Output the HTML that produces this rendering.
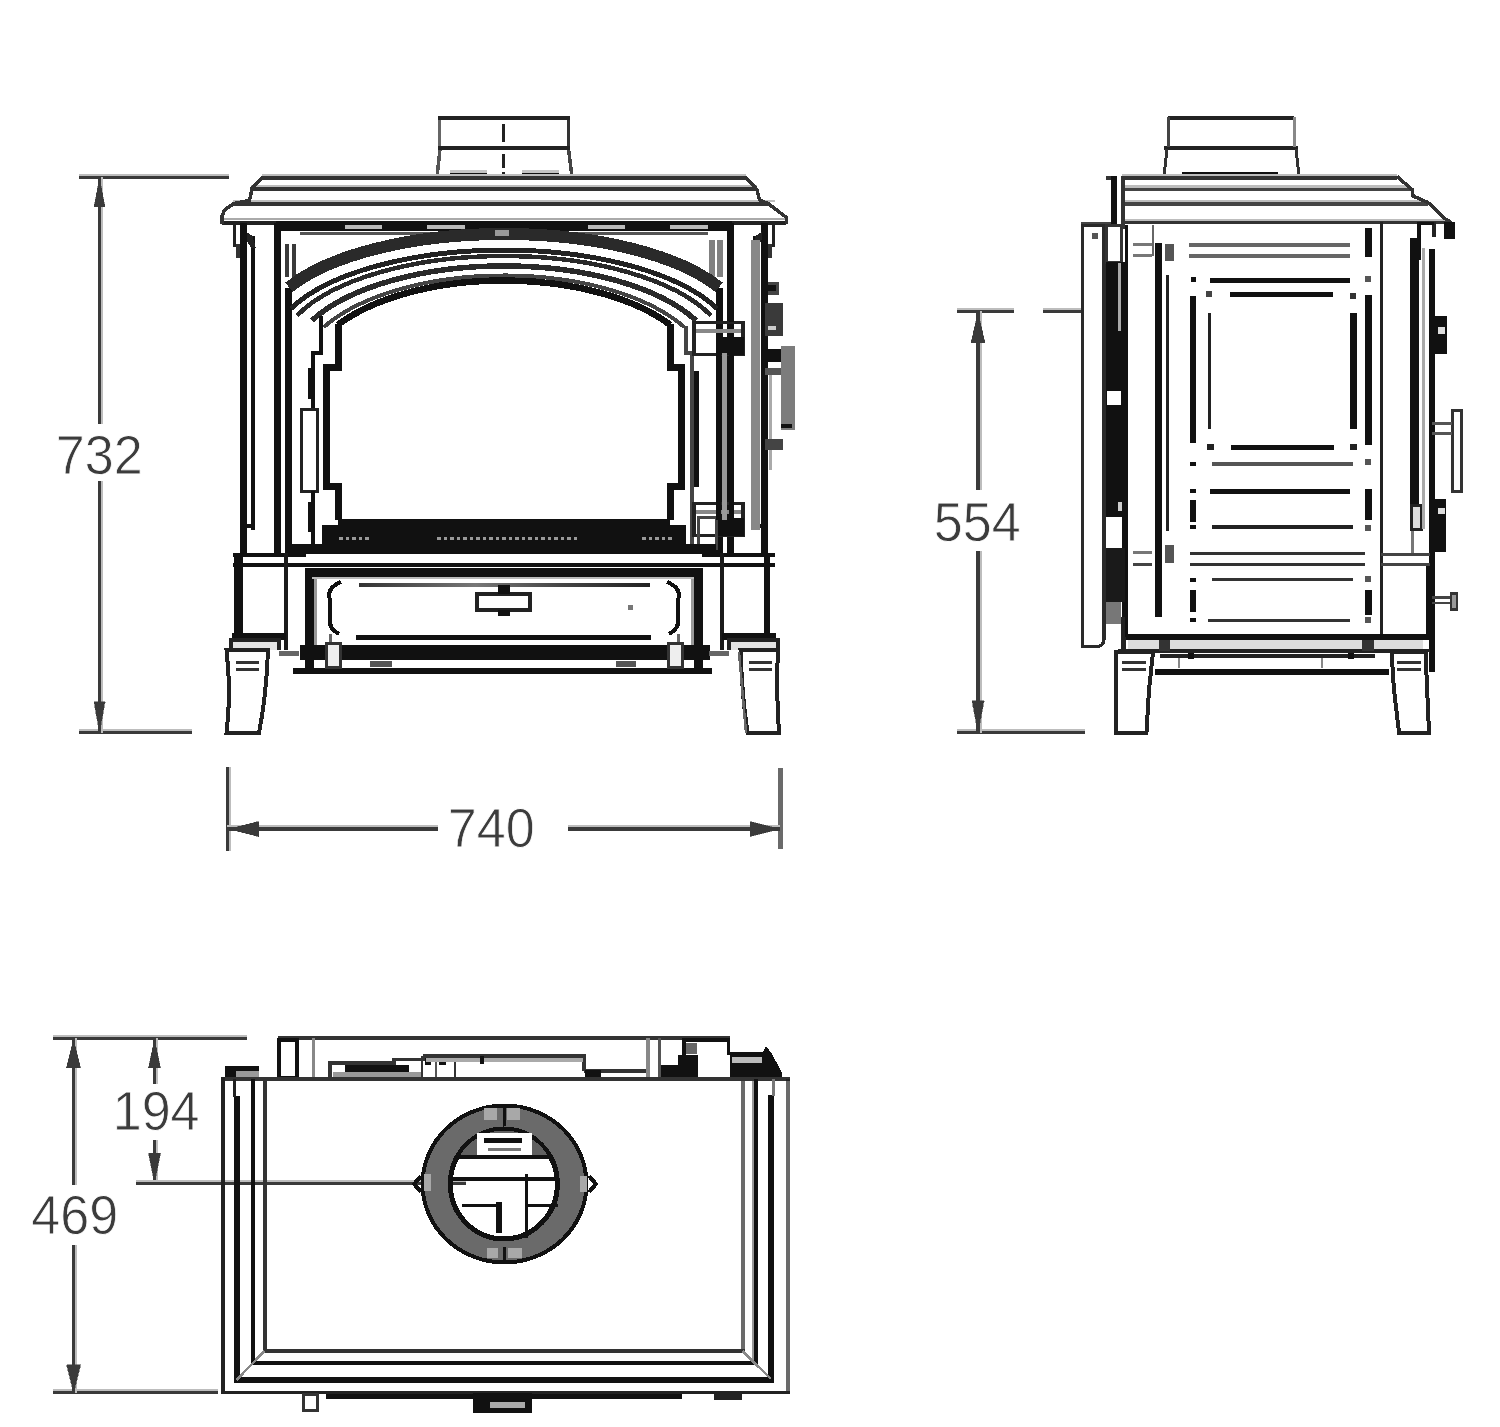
<!DOCTYPE html>
<html><head><meta charset="utf-8"><style>
html,body{margin:0;padding:0;background:#fff;}
svg{display:block;}
text{font-family:"Liberation Sans",sans-serif;}
</style></head><body>
<svg width="1500" height="1427" viewBox="0 0 1500 1427" shape-rendering="crispEdges">
<line x1="79" y1="174.7" x2="228.5" y2="174.7" stroke="#bdbdbd" stroke-width="2.2"/>
<line x1="79" y1="177.5" x2="228.5" y2="177.5" stroke="#3a3a3a" stroke-width="3.5"/>
<line x1="79" y1="729.7" x2="191.5" y2="729.7" stroke="#bdbdbd" stroke-width="2.2"/>
<line x1="79" y1="732.5" x2="191.5" y2="732.5" stroke="#3a3a3a" stroke-width="3.5"/>
<line x1="102.3" y1="177" x2="102.3" y2="424" stroke="#bdbdbd" stroke-width="2.2"/>
<line x1="99.5" y1="177" x2="99.5" y2="424" stroke="#3a3a3a" stroke-width="3.5"/>
<line x1="102.3" y1="481" x2="102.3" y2="733" stroke="#bdbdbd" stroke-width="2.2"/>
<line x1="99.5" y1="481" x2="99.5" y2="733" stroke="#3a3a3a" stroke-width="3.5"/>
<polygon points="99.5,177.5 94.0,206.5 105.0,206.5" stroke="#3a3a3a" stroke-width="0.5" fill="#3a3a3a" stroke-linejoin="miter"/>
<polygon points="99.5,732.5 94.0,701.5 105.0,701.5" stroke="#3a3a3a" stroke-width="0.5" fill="#3a3a3a" stroke-linejoin="miter"/>
<text transform="translate(99.3,474) scale(0.93,1)" x="0" y="0" font-size="56" fill="#3c3c3c" stroke="#fff" stroke-width="0.8" text-anchor="middle">732</text>
<line x1="230.3" y1="767" x2="230.3" y2="851" stroke="#bdbdbd" stroke-width="2.2"/>
<line x1="227.5" y1="767" x2="227.5" y2="851" stroke="#3a3a3a" stroke-width="3.5"/>
<line x1="780" y1="768" x2="780" y2="849" stroke="#6a6a6a" stroke-width="5"/>
<line x1="227" y1="826.2" x2="438" y2="826.2" stroke="#bdbdbd" stroke-width="2.2"/>
<line x1="227" y1="829" x2="438" y2="829" stroke="#3a3a3a" stroke-width="3.5"/>
<line x1="568" y1="826.2" x2="780" y2="826.2" stroke="#bdbdbd" stroke-width="2.2"/>
<line x1="568" y1="829" x2="780" y2="829" stroke="#3a3a3a" stroke-width="3.5"/>
<polygon points="227.5,829 258.5,821.5 258.5,836.5" stroke="#3a3a3a" stroke-width="0.5" fill="#3a3a3a" stroke-linejoin="miter"/>
<polygon points="780,829 750,821.5 750,836.5" stroke="#3a3a3a" stroke-width="0.5" fill="#3a3a3a" stroke-linejoin="miter"/>
<text transform="translate(491.3,847) scale(0.93,1)" x="0" y="0" font-size="56" fill="#3c3c3c" stroke="#fff" stroke-width="0.8" text-anchor="middle">740</text>
<line x1="957" y1="308.7" x2="1014" y2="308.7" stroke="#bdbdbd" stroke-width="2.2"/>
<line x1="957" y1="311.5" x2="1014" y2="311.5" stroke="#3a3a3a" stroke-width="3.5"/>
<line x1="1043" y1="308.7" x2="1081" y2="308.7" stroke="#bdbdbd" stroke-width="2.2"/>
<line x1="1043" y1="311.5" x2="1081" y2="311.5" stroke="#3a3a3a" stroke-width="3.5"/>
<line x1="957" y1="729.7" x2="1085" y2="729.7" stroke="#bdbdbd" stroke-width="2.2"/>
<line x1="957" y1="732.5" x2="1085" y2="732.5" stroke="#3a3a3a" stroke-width="3.5"/>
<line x1="980.8" y1="311" x2="980.8" y2="490" stroke="#bdbdbd" stroke-width="2.2"/>
<line x1="978" y1="311" x2="978" y2="490" stroke="#3a3a3a" stroke-width="3.5"/>
<line x1="980.8" y1="551" x2="980.8" y2="733" stroke="#bdbdbd" stroke-width="2.2"/>
<line x1="978" y1="551" x2="978" y2="733" stroke="#3a3a3a" stroke-width="3.5"/>
<polygon points="978,311.5 971,342.5 985,342.5" stroke="#3a3a3a" stroke-width="0.5" fill="#3a3a3a" stroke-linejoin="miter"/>
<polygon points="978,732.5 972,700.5 984,700.5" stroke="#3a3a3a" stroke-width="0.5" fill="#3a3a3a" stroke-linejoin="miter"/>
<text transform="translate(977.3,540.5) scale(0.93,1)" x="0" y="0" font-size="56" fill="#3c3c3c" stroke="#fff" stroke-width="0.8" text-anchor="middle">554</text>
<line x1="53" y1="1035.7" x2="247" y2="1035.7" stroke="#bdbdbd" stroke-width="2.2"/>
<line x1="53" y1="1038.5" x2="247" y2="1038.5" stroke="#3a3a3a" stroke-width="3.5"/>
<line x1="53" y1="1389.7" x2="218" y2="1389.7" stroke="#bdbdbd" stroke-width="2.2"/>
<line x1="53" y1="1392.5" x2="218" y2="1392.5" stroke="#3a3a3a" stroke-width="3.5"/>
<line x1="76.3" y1="1038" x2="76.3" y2="1184.5" stroke="#bdbdbd" stroke-width="2.2"/>
<line x1="73.5" y1="1038" x2="73.5" y2="1184.5" stroke="#3a3a3a" stroke-width="3.5"/>
<line x1="76.3" y1="1245" x2="76.3" y2="1393" stroke="#bdbdbd" stroke-width="2.2"/>
<line x1="73.5" y1="1245" x2="73.5" y2="1393" stroke="#3a3a3a" stroke-width="3.5"/>
<polygon points="73.5,1038.5 66.5,1067.5 80.5,1067.5" stroke="#3a3a3a" stroke-width="0.5" fill="#3a3a3a" stroke-linejoin="miter"/>
<polygon points="73.5,1392.5 66.5,1364.5 80.5,1364.5" stroke="#3a3a3a" stroke-width="0.5" fill="#3a3a3a" stroke-linejoin="miter"/>
<text transform="translate(74.7,1233.5) scale(0.93,1)" x="0" y="0" font-size="56" fill="#3c3c3c" stroke="#fff" stroke-width="0.8" text-anchor="middle">469</text>
<line x1="157.3" y1="1038" x2="157.3" y2="1084" stroke="#bdbdbd" stroke-width="2.2"/>
<line x1="154.5" y1="1038" x2="154.5" y2="1084" stroke="#3a3a3a" stroke-width="3.5"/>
<line x1="157.3" y1="1140" x2="157.3" y2="1183" stroke="#bdbdbd" stroke-width="2.2"/>
<line x1="154.5" y1="1140" x2="154.5" y2="1183" stroke="#3a3a3a" stroke-width="3.5"/>
<polygon points="154.5,1038.5 148.5,1067.5 160.5,1067.5" stroke="#3a3a3a" stroke-width="0.5" fill="#3a3a3a" stroke-linejoin="miter"/>
<polygon points="154.5,1183 148.5,1153 160.5,1153" stroke="#3a3a3a" stroke-width="0.5" fill="#3a3a3a" stroke-linejoin="miter"/>
<text transform="translate(156.1,1129.5) scale(0.93,1)" x="0" y="0" font-size="56" fill="#3c3c3c" stroke="#fff" stroke-width="0.8" text-anchor="middle">194</text>
<line x1="136" y1="1180.7" x2="466" y2="1180.7" stroke="#bdbdbd" stroke-width="2.2"/>
<line x1="136" y1="1183.5" x2="466" y2="1183.5" stroke="#3a3a3a" stroke-width="3.5"/>
<line x1="439.5" y1="118" x2="439.5" y2="148" stroke="#666" stroke-width="3"/>
<line x1="440" y1="149" x2="437" y2="177" stroke="#555" stroke-width="3.5"/>
<line x1="568.5" y1="118" x2="568.5" y2="148" stroke="#333" stroke-width="3.5"/>
<line x1="568.5" y1="149" x2="572" y2="177" stroke="#444" stroke-width="3.5"/>
<line x1="437.5" y1="117.5" x2="570" y2="117.5" stroke="#222" stroke-width="4"/>
<line x1="437.5" y1="147.5" x2="570" y2="147.5" stroke="#222" stroke-width="4"/>
<line x1="503.5" y1="124" x2="503.5" y2="142" stroke="#222" stroke-width="3.5"/>
<line x1="503.5" y1="154" x2="503.5" y2="168" stroke="#222" stroke-width="3.5"/>
<line x1="503.5" y1="172" x2="503.5" y2="177" stroke="#222" stroke-width="3.5"/>
<rect x="450" y="172.5" width="37" height="5" fill="#111"/>
<rect x="521.5" y="172.5" width="37" height="5" fill="#111"/>
<rect x="450" y="169.5" width="37" height="3" fill="#c4c4c4"/>
<rect x="521.5" y="169.5" width="37" height="3" fill="#c4c4c4"/>
<line x1="262" y1="175.2" x2="746" y2="175.2" stroke="#bdbdbd" stroke-width="2.2"/>
<line x1="251" y1="186.2" x2="757" y2="186.2" stroke="#bdbdbd" stroke-width="2.2"/>
<line x1="233" y1="201.2" x2="775" y2="201.2" stroke="#bdbdbd" stroke-width="2.2"/>
<line x1="262" y1="178" x2="746" y2="178" stroke="#333" stroke-width="3.5"/>
<line x1="251" y1="189" x2="757" y2="189" stroke="#333" stroke-width="3.5"/>
<line x1="233" y1="204" x2="768" y2="204" stroke="#333" stroke-width="3.5"/>
<line x1="222" y1="223" x2="786" y2="223" stroke="#222" stroke-width="4"/>
<line x1="222" y1="219" x2="786" y2="219" stroke="#aaa" stroke-width="2"/>
<polyline points="263,177 252,188.5 249.5,200.5 234,203.5 224.5,210 222,216 222,224" stroke="#333" stroke-width="3.5" fill="none" stroke-linejoin="miter"/>
<polyline points="745,177 757,189.5 759.5,200 768,203.5 786.5,217.5 786.5,224" stroke="#333" stroke-width="3.5" fill="none" stroke-linejoin="miter"/>
<rect x="276" y="221" width="456" height="10" fill="#111"/>
<rect x="345" y="224.5" width="37" height="4" fill="#bbb"/>
<rect x="427" y="224.5" width="38" height="4" fill="#bbb"/>
<rect x="588" y="224.5" width="37" height="4" fill="#bbb"/>
<rect x="670" y="224.5" width="38" height="4" fill="#bbb"/>
<line x1="300" y1="233.5" x2="708" y2="233.5" stroke="#555" stroke-width="3"/>
<line x1="243.5" y1="223" x2="243.5" y2="556" stroke="#111" stroke-width="6.5"/>
<line x1="253" y1="236" x2="253" y2="530" stroke="#111" stroke-width="3.5"/>
<polygon points="247,233 252,236 255,247 251,247 247,240" stroke="#222" stroke-width="1" fill="#222" stroke-linejoin="miter"/>
<line x1="277.5" y1="223" x2="277.5" y2="556" stroke="#111" stroke-width="6.5"/>
<line x1="288.5" y1="288" x2="288.5" y2="556" stroke="#111" stroke-width="7"/>
<line x1="234.5" y1="222" x2="234.5" y2="247" stroke="#222" stroke-width="3.5"/>
<line x1="238" y1="244" x2="238" y2="258" stroke="#333" stroke-width="3.5"/>
<line x1="247" y1="526" x2="253" y2="526" stroke="#111" stroke-width="4"/>
<line x1="764.5" y1="223" x2="764.5" y2="556" stroke="#111" stroke-width="6.5"/>
<line x1="755" y1="236" x2="755" y2="530" stroke="#111" stroke-width="3.5"/>
<polygon points="761,233 756,236 753,247 757,247 761,240" stroke="#222" stroke-width="1" fill="#222" stroke-linejoin="miter"/>
<line x1="730.5" y1="223" x2="730.5" y2="556" stroke="#111" stroke-width="6.5"/>
<line x1="719.5" y1="288" x2="719.5" y2="556" stroke="#111" stroke-width="7"/>
<line x1="773.5" y1="222" x2="773.5" y2="247" stroke="#222" stroke-width="3.5"/>
<line x1="770" y1="244" x2="770" y2="258" stroke="#333" stroke-width="3.5"/>
<line x1="761" y1="526" x2="755" y2="526" stroke="#111" stroke-width="4"/>
<line x1="755" y1="240" x2="755" y2="530" stroke="#888" stroke-width="9"/>
<line x1="287" y1="244" x2="287" y2="277" stroke="#3a3a3a" stroke-width="3.8"/>
<line x1="294.3" y1="244" x2="294.3" y2="277" stroke="#3a3a3a" stroke-width="3.8"/>
<line x1="712" y1="240" x2="712" y2="277" stroke="#808080" stroke-width="6"/>
<line x1="720" y1="240" x2="720" y2="277" stroke="#808080" stroke-width="6"/>
<path d="M289,287.3 A240,96 0 0 1 719,287.3" stroke="#2a2a2a" stroke-width="12" fill="none"/>
<path d="M291,308.6 A232,97 0 0 1 717,308.6" stroke="#222" stroke-width="5" fill="none"/>
<path d="M297,315.6 A225,98 0 0 1 711,315.6" stroke="#2a2a2a" stroke-width="4.5" fill="none"/>
<path d="M312,320.4 A215,99 0 0 1 696,320.4" stroke="#2a2a2a" stroke-width="5.5" fill="none"/>
<path d="M323.5,327.3 A206,100 0 0 1 684.5,327.3" stroke="#444" stroke-width="4" fill="none"/>
<path d="M338,324.7 A200,100 0 0 1 670,324.7" stroke="#111" stroke-width="6.5" fill="none"/>
<rect x="495" y="229.5" width="14" height="6" fill="#999"/>
<polyline points="338,324 338,367 326.5,367 326.5,486 338,486 338,520" stroke="#111" stroke-width="7" fill="none" stroke-linejoin="miter"/>
<polyline points="670,324 670,367 681.5,367 681.5,486 670,486 670,520" stroke="#111" stroke-width="7" fill="none" stroke-linejoin="miter"/>
<polyline points="321,316 321,353 313,353 313,409" stroke="#111" stroke-width="3.5" fill="none" stroke-linejoin="miter"/>
<rect x="308" y="368" width="7" height="31" fill="#111"/>
<rect x="301" y="409" width="16" height="82" stroke="#222" stroke-width="3" fill="none"/>
<line x1="313" y1="491" x2="313" y2="545" stroke="#111" stroke-width="3.5"/>
<rect x="308" y="502" width="7" height="30" fill="#111"/>
<polyline points="686,326 686,353 692,353 692,545" stroke="#444" stroke-width="3.5" fill="none" stroke-linejoin="miter"/>
<line x1="696.5" y1="371" x2="696.5" y2="487" stroke="#111" stroke-width="5.5"/>
<rect x="694" y="322.5" width="49" height="32" stroke="#222" stroke-width="3.5" fill="none"/>
<line x1="696" y1="331.0" x2="741" y2="331.0" stroke="#888" stroke-width="4"/>
<rect x="716" y="336.5" width="28" height="18" fill="#111"/>
<rect x="694" y="503.5" width="49" height="32" stroke="#222" stroke-width="3.5" fill="none"/>
<line x1="696" y1="512.0" x2="741" y2="512.0" stroke="#888" stroke-width="4"/>
<rect x="716" y="517.5" width="28" height="18" fill="#111"/>
<rect x="698" y="517" width="18" height="31" stroke="#444" stroke-width="3" fill="none"/>
<line x1="718.5" y1="353" x2="718.5" y2="520" stroke="#111" stroke-width="5"/>
<line x1="731" y1="353" x2="731" y2="520" stroke="#111" stroke-width="5"/>
<line x1="724.5" y1="353" x2="724.5" y2="520" stroke="#999" stroke-width="5"/>
<line x1="731" y1="236" x2="731" y2="322" stroke="#111" stroke-width="5"/>
<rect x="338" y="519" width="332" height="35" fill="#111"/>
<rect x="322" y="525" width="364" height="29" fill="#111"/>
<rect x="292" y="544" width="424" height="10" fill="#111"/>
<rect x="339" y="537" width="3.5" height="3" fill="#999"/>
<rect x="345.5" y="537" width="3.5" height="3" fill="#999"/>
<rect x="352.0" y="537" width="3.5" height="3" fill="#999"/>
<rect x="358.5" y="537" width="3.5" height="3" fill="#999"/>
<rect x="365.0" y="537" width="3.5" height="3" fill="#999"/>
<rect x="437" y="537" width="3.5" height="3" fill="#999"/>
<rect x="443.5" y="537" width="3.5" height="3" fill="#999"/>
<rect x="450.0" y="537" width="3.5" height="3" fill="#999"/>
<rect x="456.5" y="537" width="3.5" height="3" fill="#999"/>
<rect x="463.0" y="537" width="3.5" height="3" fill="#999"/>
<rect x="469.5" y="537" width="3.5" height="3" fill="#999"/>
<rect x="476.0" y="537" width="3.5" height="3" fill="#999"/>
<rect x="482.5" y="537" width="3.5" height="3" fill="#999"/>
<rect x="489.0" y="537" width="3.5" height="3" fill="#999"/>
<rect x="495.5" y="537" width="3.5" height="3" fill="#999"/>
<rect x="502.0" y="537" width="3.5" height="3" fill="#999"/>
<rect x="508.5" y="537" width="3.5" height="3" fill="#999"/>
<rect x="515.0" y="537" width="3.5" height="3" fill="#999"/>
<rect x="521.5" y="537" width="3.5" height="3" fill="#999"/>
<rect x="528.0" y="537" width="3.5" height="3" fill="#999"/>
<rect x="534.5" y="537" width="3.5" height="3" fill="#999"/>
<rect x="541.0" y="537" width="3.5" height="3" fill="#999"/>
<rect x="547.5" y="537" width="3.5" height="3" fill="#999"/>
<rect x="554.0" y="537" width="3.5" height="3" fill="#999"/>
<rect x="560.5" y="537" width="3.5" height="3" fill="#999"/>
<rect x="567.0" y="537" width="3.5" height="3" fill="#999"/>
<rect x="573.5" y="537" width="3.5" height="3" fill="#999"/>
<rect x="642" y="537" width="3.5" height="3" fill="#999"/>
<rect x="648.5" y="537" width="3.5" height="3" fill="#999"/>
<rect x="655.0" y="537" width="3.5" height="3" fill="#999"/>
<rect x="661.5" y="537" width="3.5" height="3" fill="#999"/>
<rect x="668.0" y="537" width="3.5" height="3" fill="#999"/>
<line x1="233" y1="555" x2="306" y2="555" stroke="#111" stroke-width="4"/>
<line x1="702" y1="555" x2="775" y2="555" stroke="#111" stroke-width="4"/>
<line x1="283" y1="564.5" x2="725" y2="564.5" stroke="#111" stroke-width="4"/>
<line x1="233" y1="564.5" x2="286" y2="564.5" stroke="#111" stroke-width="4"/>
<line x1="722" y1="564.5" x2="775" y2="564.5" stroke="#111" stroke-width="4"/>
<line x1="286" y1="553" x2="286" y2="650" stroke="#1a1a1a" stroke-width="4"/>
<line x1="232" y1="636" x2="286" y2="636" stroke="#111" stroke-width="7"/>
<line x1="722" y1="553" x2="722" y2="650" stroke="#1a1a1a" stroke-width="4"/>
<line x1="776" y1="636" x2="722" y2="636" stroke="#111" stroke-width="7"/>
<line x1="238.5" y1="553" x2="238.5" y2="640" stroke="#111" stroke-width="8.5"/>
<line x1="767" y1="553" x2="767" y2="640" stroke="#111" stroke-width="6"/>
<polyline points="309,668 309,572.5 698,572.5 698,668" stroke="#111" stroke-width="9" fill="none" stroke-linejoin="miter"/>
<line x1="315" y1="578" x2="315" y2="660" stroke="#999" stroke-width="3"/>
<line x1="692" y1="578" x2="692" y2="660" stroke="#999" stroke-width="3"/>
<line x1="312" y1="578" x2="694" y2="578" stroke="#bbb" stroke-width="2"/>
<defs><linearGradient id="gp" gradientUnits="userSpaceOnUse" x1="359" y1="0" x2="650" y2="0"><stop offset="0" stop-color="#333"/><stop offset="0.4" stop-color="#777"/><stop offset="0.7" stop-color="#444"/><stop offset="1" stop-color="#222"/></linearGradient></defs>
<line x1="359" y1="584.5" x2="650" y2="584.5" stroke="url(#gp)" stroke-width="4"/>
<path d="M341,582 Q326,588 330,600 L330,618 Q328,628 339,634" stroke="#111" stroke-width="4" fill="none"/>
<line x1="330" y1="634" x2="330" y2="660" stroke="#666" stroke-width="3"/>
<path d="M667,582 Q682,588 678,600 L678,618 Q680,628 669,634" stroke="#111" stroke-width="4" fill="none"/>
<line x1="678" y1="634" x2="678" y2="660" stroke="#666" stroke-width="3"/>
<line x1="356" y1="637" x2="651" y2="637" stroke="#111" stroke-width="5"/>
<rect x="300" y="645" width="410" height="15" fill="#111"/>
<line x1="293" y1="671" x2="712" y2="671" stroke="#111" stroke-width="6"/>
<rect x="370" y="661" width="22" height="6" fill="#555"/>
<rect x="616" y="661" width="20" height="6" fill="#555"/>
<rect x="326" y="643" width="14" height="24" stroke="#333" stroke-width="3" fill="#eee"/>
<rect x="668" y="643" width="14" height="24" stroke="#333" stroke-width="3" fill="#eee"/>
<rect x="477" y="594" width="53" height="16" stroke="#222" stroke-width="3.5" fill="none"/>
<rect x="498" y="585" width="12" height="9" fill="#111"/>
<rect x="498" y="610" width="12" height="6" fill="#111"/>
<rect x="628" y="605" width="5" height="5" fill="#777"/>
<rect x="279" y="651" width="20" height="5" fill="#666"/>
<rect x="709" y="651" width="20" height="5" fill="#666"/>
<rect x="230.5" y="640" width="48.5" height="10" fill="#e4e4e4"/>
<polyline points="230.5,650 230.5,639.5 279,639.5 279,650" stroke="#222" stroke-width="4" fill="none" stroke-linejoin="miter"/>
<line x1="236" y1="662" x2="259" y2="662" stroke="#333" stroke-width="3"/>
<line x1="236" y1="669" x2="259" y2="669" stroke="#333" stroke-width="3"/>
<rect x="729" y="640" width="48.5" height="10" fill="#e4e4e4"/>
<polyline points="777.5,650 777.5,639.5 729,639.5 729,650" stroke="#222" stroke-width="4" fill="none" stroke-linejoin="miter"/>
<line x1="772" y1="662" x2="749" y2="662" stroke="#333" stroke-width="3"/>
<line x1="772" y1="669" x2="749" y2="669" stroke="#333" stroke-width="3"/>
<path d="M226.5,650 L268,650 Q266.5,695 259,733 L226.5,733 Q231.5,692 226.5,650 Z" stroke="#222" stroke-width="4" fill="none"/>
<path d="M778,650 L740.5,650 Q742,695 747.5,733 L779,733 Q776,692 778,650 Z" stroke="#222" stroke-width="4" fill="none"/>
<line x1="739" y1="652" x2="746" y2="733" stroke="#666" stroke-width="2.5"/>
<line x1="770" y1="372" x2="770" y2="470" stroke="#aaa" stroke-width="3"/>
<rect x="768" y="282" width="11" height="13" fill="#444"/>
<rect x="768" y="285" width="8" height="6" fill="#111"/>
<rect x="765" y="303" width="18" height="33" fill="#3a3a3a"/>
<rect x="768" y="326" width="8" height="4" fill="#ccc"/>
<rect x="765" y="349" width="26" height="13" fill="#111"/>
<rect x="765" y="368" width="18" height="7" fill="#555"/>
<rect x="780.5" y="346" width="14.5" height="84" fill="#7c7c7c"/>
<rect x="780.5" y="424" width="11" height="4" fill="#111"/>
<rect x="765" y="439" width="18" height="11" fill="#444"/>
<line x1="1168" y1="118" x2="1294" y2="118" stroke="#222" stroke-width="4"/>
<line x1="1164" y1="147.5" x2="1298" y2="147.5" stroke="#222" stroke-width="4"/>
<line x1="1168" y1="117" x2="1168" y2="147" stroke="#444" stroke-width="3"/>
<line x1="1294" y1="117" x2="1294" y2="147" stroke="#888" stroke-width="3"/>
<line x1="1167" y1="149" x2="1164" y2="176" stroke="#333" stroke-width="3"/>
<line x1="1296" y1="149" x2="1299" y2="176" stroke="#333" stroke-width="3"/>
<rect x="1182" y="172" width="96" height="6" fill="#111"/>
<line x1="1122" y1="174.7" x2="1397" y2="174.7" stroke="#bdbdbd" stroke-width="2.2"/>
<line x1="1122" y1="186.5" x2="1410" y2="186.5" stroke="#bdbdbd" stroke-width="2.2"/>
<line x1="1122" y1="201.2" x2="1426" y2="201.2" stroke="#bdbdbd" stroke-width="2.2"/>
<line x1="1122" y1="219.7" x2="1446" y2="219.7" stroke="#bdbdbd" stroke-width="2.2"/>
<line x1="1121" y1="177.8" x2="1397" y2="177.8" stroke="#333" stroke-width="3.5"/>
<line x1="1106" y1="177.8" x2="1117" y2="177.8" stroke="#333" stroke-width="3.5"/>
<line x1="1122" y1="189.3" x2="1412" y2="189.3" stroke="#444" stroke-width="3.5"/>
<line x1="1122" y1="204" x2="1428" y2="204" stroke="#444" stroke-width="3.5"/>
<line x1="1122" y1="222.5" x2="1450" y2="222.5" stroke="#333" stroke-width="3.5"/>
<polyline points="1397,176.5 1412,189.5 1413,196 1428,202.5 1444,218 1451,222.5" stroke="#333" stroke-width="3.5" fill="none" stroke-linejoin="miter"/>
<line x1="1123" y1="177" x2="1123" y2="229" stroke="#333" stroke-width="3.5"/>
<line x1="1114" y1="176" x2="1114" y2="225" stroke="#111" stroke-width="6"/>
<rect x="1444" y="222" width="11" height="17" fill="#111"/>
<line x1="1419" y1="222" x2="1419" y2="260" stroke="#111" stroke-width="3.5"/>
<line x1="1434" y1="222" x2="1434" y2="237" stroke="#222" stroke-width="3.5"/>
<line x1="1419" y1="223.5" x2="1434" y2="223.5" stroke="#111" stroke-width="3"/>
<path d="M1082.5,225 L1082.5,646.5 L1097,646.5 Q1104,646 1104,639 L1104,225 Z" stroke="#2a2a2a" stroke-width="3.2" fill="none"/>
<rect x="1092" y="233" width="6" height="6" fill="#555"/>
<line x1="1081" y1="223" x2="1111" y2="223" stroke="#444" stroke-width="2.5"/>
<rect x="1106.5" y="225" width="15" height="37" stroke="#333" stroke-width="3" fill="none"/>
<rect x="1105.5" y="262" width="22" height="255" fill="#111"/>
<line x1="1119.5" y1="263" x2="1119.5" y2="331" stroke="#aaa" stroke-width="2.5"/>
<rect x="1107" y="391" width="14" height="14" fill="#fff"/>
<rect x="1121.5" y="517" width="6" height="100" fill="#111"/>
<rect x="1105.5" y="548" width="22" height="54" fill="#1a1a1a"/>
<rect x="1106" y="602" width="15" height="22" fill="#777"/>
<rect x="1118" y="502" width="4" height="9" fill="#ccc"/>
<line x1="1123" y1="617" x2="1123" y2="650" stroke="#222" stroke-width="5"/>
<line x1="1133" y1="552.5" x2="1152" y2="552.5" stroke="#777" stroke-width="3"/>
<line x1="1133" y1="564" x2="1152" y2="564" stroke="#444" stroke-width="3"/>
<rect x="1165" y="545" width="9" height="18" fill="#555"/>
<line x1="1126.5" y1="225" x2="1126.5" y2="637" stroke="#111" stroke-width="3"/>
<line x1="1158.5" y1="243" x2="1158.5" y2="617" stroke="#111" stroke-width="7"/>
<line x1="1167.8" y1="275" x2="1167.8" y2="531" stroke="#222" stroke-width="3"/>
<rect x="1165" y="244" width="9" height="17" fill="#555"/>
<line x1="1133" y1="244.5" x2="1152" y2="244.5" stroke="#777" stroke-width="3"/>
<line x1="1133" y1="255.5" x2="1152" y2="255.5" stroke="#777" stroke-width="3"/>
<line x1="1153" y1="225" x2="1153" y2="256" stroke="#666" stroke-width="2.5"/>
<line x1="1192.8" y1="296" x2="1192.8" y2="443" stroke="#111" stroke-width="6"/>
<line x1="1192.8" y1="462" x2="1192.8" y2="466" stroke="#111" stroke-width="6"/>
<line x1="1192.8" y1="489" x2="1192.8" y2="493" stroke="#111" stroke-width="6"/>
<line x1="1192.8" y1="500" x2="1192.8" y2="522" stroke="#111" stroke-width="6"/>
<line x1="1192.8" y1="525" x2="1192.8" y2="529" stroke="#111" stroke-width="6"/>
<line x1="1192.8" y1="578" x2="1192.8" y2="582" stroke="#111" stroke-width="6"/>
<line x1="1192.8" y1="590" x2="1192.8" y2="612" stroke="#111" stroke-width="6"/>
<line x1="1192.8" y1="618" x2="1192.8" y2="622" stroke="#111" stroke-width="6"/>
<line x1="1209.5" y1="313" x2="1209.5" y2="429" stroke="#222" stroke-width="3"/>
<line x1="1353.5" y1="313" x2="1353.5" y2="429" stroke="#111" stroke-width="7"/>
<line x1="1368" y1="228" x2="1368" y2="257" stroke="#111" stroke-width="7"/>
<line x1="1368" y1="295" x2="1368" y2="445" stroke="#111" stroke-width="7"/>
<line x1="1368" y1="489" x2="1368" y2="520" stroke="#111" stroke-width="7"/>
<line x1="1368" y1="590" x2="1368" y2="615" stroke="#111" stroke-width="7"/>
<rect x="1365" y="458.5" width="6" height="6" fill="#555"/>
<rect x="1365" y="524.7" width="6" height="6" fill="#555"/>
<rect x="1365" y="576" width="6" height="6" fill="#555"/>
<rect x="1365" y="617" width="6" height="6" fill="#555"/>
<rect x="1365" y="276" width="6" height="6" fill="#555"/>
<rect x="1350" y="293" width="6" height="6" fill="#333"/>
<rect x="1207" y="444" width="7" height="6" fill="#222"/>
<rect x="1350" y="444" width="7" height="6" fill="#222"/>
<line x1="1381" y1="222" x2="1381" y2="638" stroke="#222" stroke-width="3"/>
<line x1="1414.5" y1="238" x2="1414.5" y2="531" stroke="#111" stroke-width="9"/>
<line x1="1412" y1="531" x2="1412" y2="554" stroke="#777" stroke-width="3"/>
<rect x="1411" y="505" width="10" height="24" stroke="#222" stroke-width="3" fill="#ddd"/>
<line x1="1432" y1="249" x2="1432" y2="672" stroke="#111" stroke-width="6"/>
<line x1="1189" y1="244.5" x2="1350" y2="244.5" stroke="#666" stroke-width="4"/>
<line x1="1189" y1="255.6" x2="1350" y2="255.6" stroke="#666" stroke-width="4"/>
<line x1="1210" y1="280" x2="1350" y2="280" stroke="#111" stroke-width="5"/>
<line x1="1230" y1="294.5" x2="1333" y2="294.5" stroke="#111" stroke-width="5"/>
<line x1="1231" y1="447.3" x2="1334" y2="447.3" stroke="#111" stroke-width="5"/>
<line x1="1212" y1="464" x2="1353" y2="464" stroke="#555" stroke-width="4"/>
<line x1="1210" y1="491.4" x2="1350" y2="491.4" stroke="#111" stroke-width="5"/>
<line x1="1212" y1="527" x2="1353" y2="527" stroke="#222" stroke-width="4"/>
<line x1="1190" y1="553.4" x2="1365" y2="553.4" stroke="#333" stroke-width="3.5"/>
<line x1="1190" y1="564.6" x2="1365" y2="564.6" stroke="#333" stroke-width="3.5"/>
<line x1="1212" y1="579.7" x2="1353" y2="579.7" stroke="#333" stroke-width="3.5"/>
<line x1="1208" y1="620.7" x2="1350" y2="620.7" stroke="#333" stroke-width="3.5"/>
<rect x="1191" y="277" width="5" height="5" fill="#111"/>
<rect x="1206" y="291" width="6" height="6" fill="#444"/>
<rect x="1433" y="316" width="14" height="38" fill="#111"/>
<rect x="1438" y="327" width="7" height="7" fill="#ddd"/>
<rect x="1452" y="410" width="9.5" height="81" stroke="#333" stroke-width="3" fill="none"/>
<line x1="1432" y1="423" x2="1452" y2="423" stroke="#555" stroke-width="3"/>
<line x1="1432" y1="433" x2="1452" y2="433" stroke="#555" stroke-width="3"/>
<rect x="1429" y="499" width="17" height="53" fill="#111"/>
<rect x="1437.5" y="508" width="7" height="6" fill="#ddd"/>
<line x1="1432" y1="597.5" x2="1451" y2="597.5" stroke="#444" stroke-width="2.5"/>
<line x1="1432" y1="603" x2="1451" y2="603" stroke="#444" stroke-width="2.5"/>
<rect x="1451" y="593.5" width="6" height="16" stroke="#333" stroke-width="2.5" fill="#999"/>
<line x1="1423.5" y1="248" x2="1423.5" y2="529" stroke="#aaa" stroke-width="2.5"/>
<rect x="1128" y="639" width="295" height="11" fill="#ddd"/>
<line x1="1126" y1="636.5" x2="1430" y2="636.5" stroke="#111" stroke-width="6"/>
<line x1="1118" y1="651" x2="1430" y2="651" stroke="#222" stroke-width="3.5"/>
<line x1="1160" y1="656" x2="1375" y2="656" stroke="#222" stroke-width="3.5"/>
<line x1="1155" y1="672" x2="1389" y2="672" stroke="#111" stroke-width="6"/>
<rect x="1159" y="640" width="11" height="11" fill="#333"/>
<rect x="1362" y="640" width="12" height="11" fill="#333"/>
<rect x="1188" y="653" width="6" height="6" fill="#111"/>
<rect x="1348" y="653" width="6" height="6" fill="#111"/>
<line x1="1179" y1="658" x2="1179" y2="668" stroke="#888" stroke-width="2.5"/>
<line x1="1322" y1="658" x2="1322" y2="668" stroke="#888" stroke-width="2.5"/>
<line x1="1381" y1="554" x2="1430" y2="554" stroke="#444" stroke-width="3"/>
<line x1="1381" y1="564" x2="1430" y2="564" stroke="#444" stroke-width="3"/>
<line x1="1429" y1="566" x2="1429" y2="640" stroke="#111" stroke-width="6"/>
<rect x="1116" y="652" width="38" height="80" fill="#fff"/>
<polygon points="1115.5,652 1153,652 1149,690 1146.5,732.5 1115.5,732.5" stroke="#222" stroke-width="4" fill="none" stroke-linejoin="miter"/>
<line x1="1122" y1="662" x2="1146" y2="662" stroke="#333" stroke-width="3"/>
<line x1="1122" y1="669" x2="1146" y2="669" stroke="#333" stroke-width="3"/>
<rect x="1391" y="652" width="38" height="80" fill="#fff"/>
<polygon points="1391.5,652 1425.5,652 1429,732.5 1399,732.5 1394,690" stroke="#222" stroke-width="4" fill="none" stroke-linejoin="miter"/>
<line x1="1397" y1="662" x2="1421" y2="662" stroke="#333" stroke-width="3"/>
<line x1="1397" y1="669" x2="1421" y2="669" stroke="#333" stroke-width="3"/>
<line x1="278" y1="1038" x2="730" y2="1038" stroke="#333" stroke-width="4"/>
<rect x="279" y="1040" width="18" height="38" stroke="#111" stroke-width="3.5" fill="none"/>
<line x1="313" y1="1038" x2="313" y2="1078" stroke="#888" stroke-width="3"/>
<polyline points="330,1078 330,1063 394,1063 394,1059.5 425,1059.5 425,1056 584,1056 584,1071" stroke="#333" stroke-width="3.5" fill="none" stroke-linejoin="miter"/>
<rect x="345" y="1065" width="64" height="7" fill="#111"/>
<rect x="333" y="1072" width="90" height="5" fill="#999"/>
<line x1="422" y1="1056" x2="422" y2="1079" stroke="#333" stroke-width="2.5"/>
<line x1="436" y1="1058" x2="436" y2="1079" stroke="#555" stroke-width="2.5"/>
<line x1="455" y1="1058" x2="455" y2="1079" stroke="#333" stroke-width="2.5"/>
<rect x="425" y="1058" width="6" height="7" fill="#111"/>
<rect x="439" y="1058" width="7" height="7" fill="#111"/>
<rect x="426" y="1058" width="157" height="4" fill="#aaa"/>
<rect x="480" y="1056" width="4" height="8" fill="#111"/>
<line x1="584" y1="1071" x2="648" y2="1071" stroke="#333" stroke-width="3.5"/>
<rect x="585" y="1070" width="16" height="9" fill="#111"/>
<line x1="648" y1="1038" x2="648" y2="1079" stroke="#888" stroke-width="3.5"/>
<line x1="659.5" y1="1038" x2="659.5" y2="1079" stroke="#555" stroke-width="3.5"/>
<rect x="661" y="1065" width="17" height="14" fill="#111"/>
<line x1="682" y1="1040" x2="730" y2="1040" stroke="#111" stroke-width="4"/>
<line x1="684" y1="1040" x2="684" y2="1079" stroke="#111" stroke-width="4"/>
<rect x="686" y="1043" width="11" height="11" fill="#666"/>
<rect x="678" y="1055" width="20" height="24" fill="#111"/>
<line x1="728.5" y1="1038" x2="728.5" y2="1055" stroke="#111" stroke-width="3.5"/>
<rect x="730" y="1051.5" width="34" height="27.5" fill="#111"/>
<rect x="732" y="1057" width="30" height="6" fill="#bbb"/>
<polygon points="766,1047 772,1055 781,1072 782,1079 762,1079 762,1055" stroke="#111" stroke-width="1" fill="#111" stroke-linejoin="miter"/>
<rect x="228" y="1069" width="31" height="9" fill="#999"/>
<rect x="225" y="1066" width="34" height="5" fill="#111"/>
<rect x="225" y="1066" width="11" height="14" fill="#111"/>
<line x1="222" y1="1079" x2="790" y2="1079" stroke="#333" stroke-width="4"/>
<polyline points="223,1077 223,1392.5 788,1392.5 788,1079" stroke="#222" stroke-width="3.5" fill="none" stroke-linejoin="miter"/>
<polyline points="236.5,1096 236.5,1380 771,1380 771,1095" stroke="#111" stroke-width="6" fill="none" stroke-linejoin="miter"/>
<line x1="234.5" y1="1079" x2="234.5" y2="1097" stroke="#222" stroke-width="3"/>
<line x1="773" y1="1079" x2="773" y2="1096" stroke="#777" stroke-width="3"/>
<polyline points="253,1079 253,1363 755.5,1363 755.5,1079" stroke="#111" stroke-width="4" fill="none" stroke-linejoin="miter"/>
<polyline points="264.5,1079 264.5,1351 742.5,1351 742.5,1079" stroke="#333" stroke-width="4" fill="none" stroke-linejoin="miter"/>
<line x1="326" y1="1396" x2="682" y2="1396" stroke="#111" stroke-width="5"/>
<line x1="788" y1="1081" x2="788" y2="1391" stroke="#6a6a6a" stroke-width="3.5"/>
<line x1="742.5" y1="1081" x2="742.5" y2="1349" stroke="#6a6a6a" stroke-width="4"/>
<line x1="752.5" y1="1081" x2="752.5" y2="1360" stroke="#999" stroke-width="2"/>
<line x1="264.5" y1="1351" x2="236.5" y2="1380" stroke="#888" stroke-width="2.5"/>
<line x1="742.5" y1="1351" x2="771" y2="1379" stroke="#888" stroke-width="2.5"/>
<rect x="473" y="1393" width="59" height="20" fill="#111"/>
<rect x="490" y="1402" width="35" height="6" fill="#aaa"/>
<rect x="303" y="1394" width="14" height="16" stroke="#333" stroke-width="3" fill="none"/>
<rect x="714" y="1393" width="28" height="7" fill="#222"/>
<path d="M421.5,1184 a83,79.5 0 1 0 166,0 a83,79.5 0 1 0 -166,0 Z M451.8,1184 a52,53.5 0 1 0 104,0 a52,53.5 0 1 0 -104,0 Z" fill="#6a6a6a" fill-rule="evenodd" stroke="none"/>
<path d="M422.5,1184 a82,78.5 0 1 0 164,0 a82,78.5 0 1 0 -164,0 Z" stroke="#111" stroke-width="4" fill="none"/>
<path d="M450.3,1184 a53.5,55 0 1 0 107.0,0 a53.5,55 0 1 0 -107.0,0 Z" stroke="#111" stroke-width="5" fill="none"/>
<rect x="484" y="1108" width="13" height="12" fill="#a8a8a8"/>
<rect x="507" y="1108" width="13" height="12" fill="#a8a8a8"/>
<rect x="487" y="1248" width="11" height="10" fill="#a8a8a8"/>
<rect x="508" y="1248" width="14" height="10" fill="#a8a8a8"/>
<rect x="424" y="1174" width="7" height="17" fill="#a8a8a8"/>
<rect x="580" y="1176" width="7" height="16" fill="#a8a8a8"/>
<path d="M459.5,1156 A52,53.5 0 0 1 548.1,1156 Z" stroke="none" stroke-width="0" fill="#606060"/>
<polyline points="421,1176 414,1184 421,1192" stroke="#111" stroke-width="4" fill="none" stroke-linejoin="miter"/>
<polyline points="589,1176 596,1184 589,1192" stroke="#111" stroke-width="4" fill="none" stroke-linejoin="miter"/>
<line x1="504.5" y1="1104" x2="504.5" y2="1126" stroke="#111" stroke-width="3.5"/>
<line x1="504.5" y1="1247" x2="504.5" y2="1264" stroke="#111" stroke-width="3.5"/>
<rect x="477" y="1133" width="55" height="22" fill="#fff"/>
<line x1="484" y1="1140" x2="522" y2="1140" stroke="#111" stroke-width="5"/>
<line x1="488" y1="1149" x2="521" y2="1149" stroke="#777" stroke-width="3"/>
<line x1="455" y1="1156.5" x2="553" y2="1156.5" stroke="#111" stroke-width="4"/>
<line x1="452" y1="1179" x2="558" y2="1179" stroke="#111" stroke-width="3.5"/>
<line x1="526.7" y1="1174" x2="526.7" y2="1238" stroke="#111" stroke-width="3.5"/>
<line x1="526" y1="1205.5" x2="558" y2="1205.5" stroke="#111" stroke-width="3.5"/>
<line x1="462" y1="1205.5" x2="498" y2="1205.5" stroke="#111" stroke-width="3.5"/>
<line x1="498.5" y1="1202" x2="498.5" y2="1233" stroke="#111" stroke-width="6"/>
</svg>
</body></html>
